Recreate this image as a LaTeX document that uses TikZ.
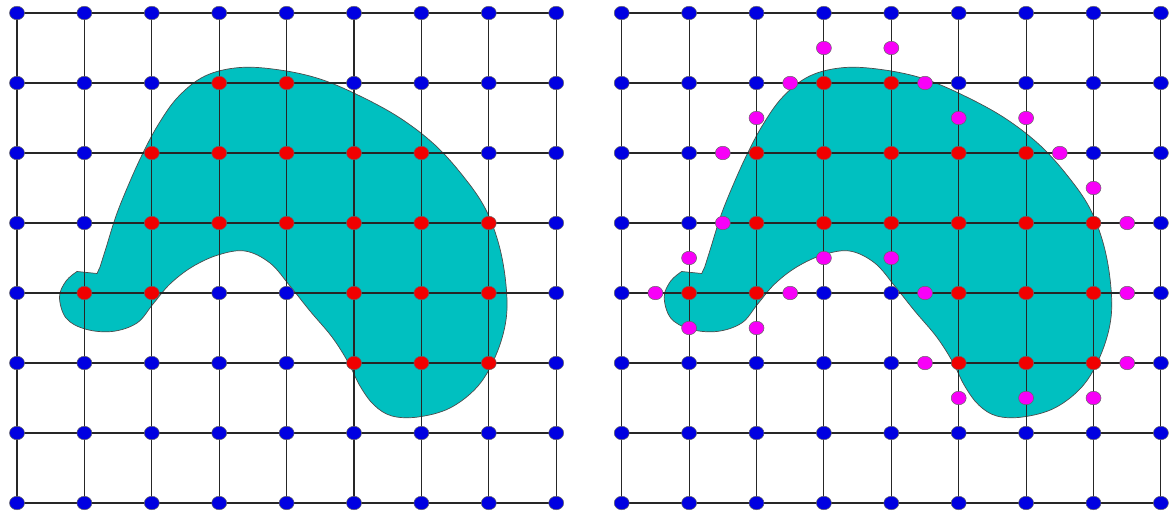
\documentclass[tikz,border=0pt]{standalone}
\usetikzlibrary{shapes.geometric,calc}
\definecolor{shapefill}{RGB}{0,192,192}
\definecolor{dotblue}{RGB}{0,0,225}
\definecolor{dotred}{RGB}{240,0,0}
\definecolor{dotmag}{RGB}{248,0,248}
\newcommand\redlist{,3-1,4-1,2-2,3-2,4-2,5-2,6-2,2-3,3-3,4-3,5-3,6-3,7-3,1-4,2-4,5-4,6-4,7-4,5-5,6-5,7-5,}
\makeatletter
\newcommand\pickdot[2]{\edef\pd@tmp{\noexpand\in@{,#1-#2,}{\redlist}}\pd@tmp
  \ifin@\def\dotcol{dotred}\else\def\dotcol{dotblue}\fi}
\makeatother
\tikzset{
  gridline/.style={draw=black!85, line width=1.1pt},
  blob/.style={fill=shapefill, draw=black!70, line width=0.7pt},
  gdot/.style={ellipse, minimum width=15pt, minimum height=13.5pt, inner sep=0pt,
               draw=black!60, line width=0.5pt},
  mdot/.style={gdot, fill=dotmag}
}
\begin{document}
\begin{tikzpicture}[x=1pt,y=-1pt]
\useasboundingbox (0,0) rectangle (1170,516);
\fill[white] (0,0) rectangle (1170,516);
% grid coordinates
\foreach \i in {0,...,8}{
  \foreach \j in {0,...,7}{
    \coordinate (gL-\i-\j) at ({17+67.4*\i},{13+70*\j});
    \coordinate (gR-\i-\j) at ({621.7+67.4*\i},{13+70*\j});
  }
}
% shapes
\foreach \off in {0,604.7}{
\begin{scope}[shift={(\off,0)}]
\draw[blob] plot[smooth, tension=0.6] coordinates {
 (100,267) (106,248) (116,216) (128,186) (142,155) (158,125) (178,97) (205,76)
 (240,67.5) (280,70) (320,79) (360,96) (400,118) (435,145) (463,176) (485,208)
 (499,245) (506,285) (506,320) (496,355) (478,386) (450,408) (418,417) (392,416)
 (374,405) (360,386) (348,362) (332,337) (310,311) (290,286) (270,263) (245,251)
 (218,255) (192,267) (170,284) (153,304) (137,323) (112,331.5) (85,329) (66,318)
 (59.5,297) (66,281) (77,271.5)} -- (97,273.5) -- cycle;
\end{scope}
}
% grid lines
\foreach \p in {L,R}{
  \foreach \j in {0,...,7}{\draw[gridline] (g\p-0-\j) -- (g\p-8-\j);}
  \foreach \i in {0,...,8}{\draw[gridline] (g\p-\i-0) -- (g\p-\i-7);}
}
% grid dots
\foreach \p in {L,R}{
  \foreach \i in {0,...,8}{
    \foreach \j in {0,...,7}{
      \pickdot{\i}{\j}
      \node[gdot, fill=\dotcol] (\p-\i-\j) at (g\p-\i-\j) {};
    }
  }
}
% boundary crossing dots (right panel)
\foreach \a/\b/\c/\d [count=\k] in {3/0/3/1,4/0/4/1,2/1/3/1,4/1/5/1,2/1/2/2,5/1/5/2,
  6/1/6/2,1/2/2/2,6/2/7/2,7/2/7/3,1/3/2/3,7/3/8/3,1/3/1/4,3/3/3/4,4/3/4/4,0/4/1/4,
  2/4/3/4,4/4/5/4,7/4/8/4,1/4/1/5,2/4/2/5,4/5/5/5,7/5/8/5,5/5/5/6,6/5/6/6,7/5/7/6}{
  \node[mdot] (M-\k) at ($(gR-\a-\b)!0.5!(gR-\c-\d)$) {};
}
\end{tikzpicture}
\end{document}
